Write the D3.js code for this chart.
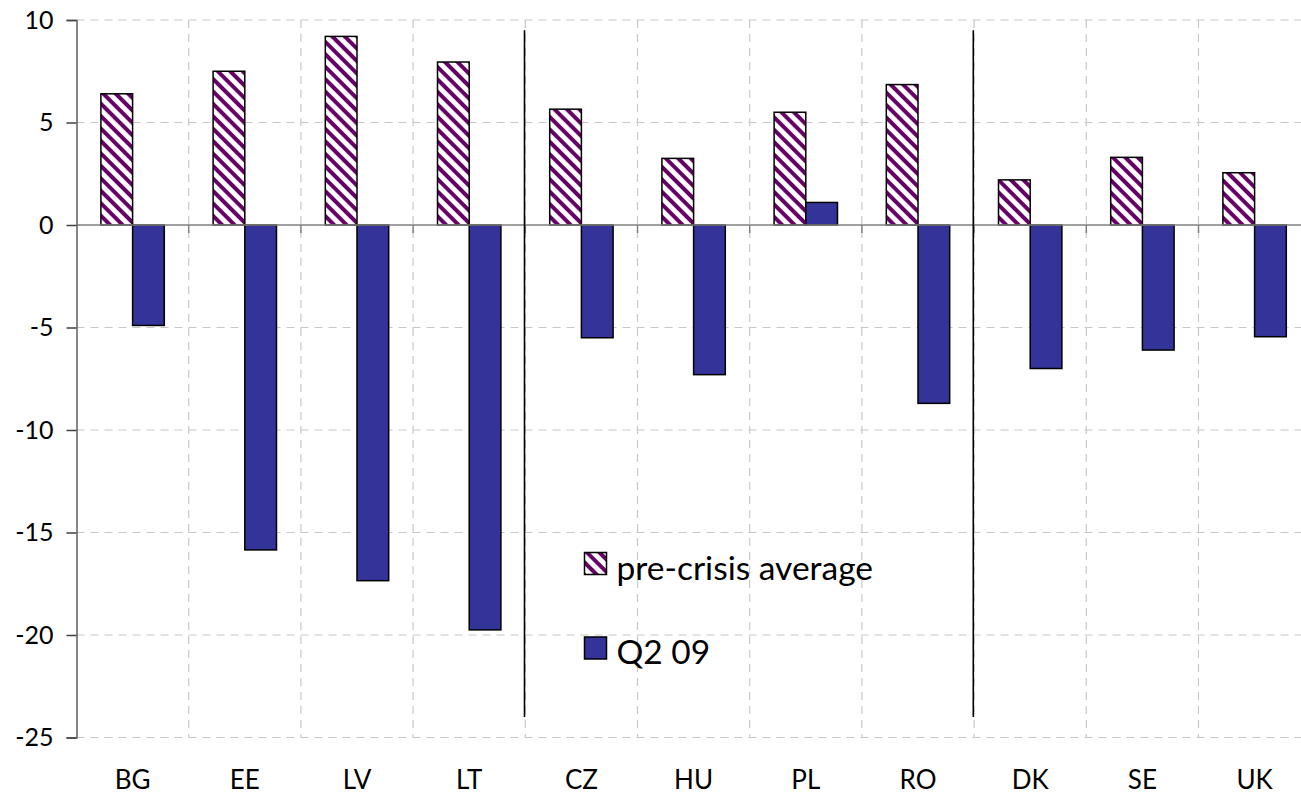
<!DOCTYPE html>
<html>
<head>
<meta charset="utf-8">
<script src="https://cdn.jsdelivr.net/npm/d3@7"></script>
<style>
html,body{margin:0;padding:0;background:#fff;}
svg{display:block;}
text{font-family:"Lato","Open Sans",sans-serif;fill:#000;}
</style>
</head>
<body>
<svg id="chart" width="1301" height="796"></svg>
<script>
const categories = ["BG","EE","LV","LT","CZ","HU","PL","RO","DK","SE","UK"];
const seriesNames = ["pre-crisis average","Q2 09"];
const preCrisis = [6.4, 7.5, 9.2, 7.95, 5.65, 3.25, 5.5, 6.85, 2.2, 3.3, 2.55];
const q2_09 = [-4.9, -15.85, -17.35, -19.75, -5.5, -7.3, 1.1, -8.7, -7.0, -6.1, -5.45];
const yTicks = [10, 5, 0, -5, -10, -15, -20, -25];
const separatorsAfter = ["LT","RO"];
const separatorRange = [9.5, -24];

(function(){
const svg = d3.select("#chart");
const pLeft = 76.5, pRight = 1310.7, pTop = 20, pBottom = 737.5;

const y = d3.scaleLinear().domain([-25, 10]).range([pBottom, pTop]);
const x = d3.scaleBand().domain(categories).range([pLeft, pRight]).padding(0);
const xs = d3.scaleBand().domain(seriesNames).range([0, x.bandwidth()]).paddingInner(0).paddingOuter(0.77);

const defs = svg.append("defs");
const pat = defs.append("pattern")
  .attr("id","hatch").attr("patternUnits","userSpaceOnUse")
  .attr("width",8.8).attr("height",8.8)
  .attr("patternTransform","rotate(45)");
pat.append("rect").attr("width",8.8).attr("height",8.8).attr("fill","#fff");
pat.append("rect").attr("width",8.8).attr("height",4).attr("fill","#660066");

// horizontal gridlines
svg.append("g").selectAll("line").data(yTicks.filter(d => d !== 0)).join("line")
  .attr("x1", pLeft).attr("x2", pRight)
  .attr("y1", d => y(d)).attr("y2", d => y(d))
  .attr("stroke","#c8c8c8").attr("stroke-width",1.2).attr("stroke-dasharray","8,6");

// vertical gridlines at category boundaries
const bounds = categories.slice(1).map(c => x(c));
svg.append("g").selectAll("line").data(bounds).join("line")
  .attr("x1", d => d).attr("x2", d => d)
  .attr("y1", y(10)).attr("y2", y(-25))
  .attr("stroke","#c8c8c8").attr("stroke-width",1.2).attr("stroke-dasharray","8,6");

// bars
const data = categories.map((c,i) => ({c, vals:[preCrisis[i], q2_09[i]]}));
const g = svg.append("g");
data.forEach(d => {
  d.vals.forEach((v, j) => {
    g.append("rect")
      .attr("x", x(d.c) + xs(seriesNames[j]))
      .attr("width", xs.bandwidth())
      .attr("y", y(Math.max(0, v)))
      .attr("height", Math.abs(y(v) - y(0)))
      .attr("fill", j === 0 ? "url(#hatch)" : "#333399")
      .attr("stroke", "#000").attr("stroke-width", 1.5);
  });
});

// zero axis line with ticks
svg.append("line").attr("x1", pLeft).attr("x2", pRight)
  .attr("y1", y(0)).attr("y2", y(0)).attr("stroke","#808080").attr("stroke-width",1.5);
svg.append("g").selectAll("line").data(bounds).join("line")
  .attr("x1", d => d).attr("x2", d => d)
  .attr("y1", y(0)).attr("y2", y(0) + 8)
  .attr("stroke","#808080").attr("stroke-width",1.5);

// y axis
const yAxis = d3.axisLeft(y).tickValues(yTicks).tickSize(10).tickPadding(13).tickFormat(d3.format("d"));
const ya = svg.append("g").attr("transform", `translate(${pLeft},0)`).call(yAxis);
ya.select(".domain").attr("stroke","#606060").attr("stroke-width",1.5);
ya.selectAll(".tick line").attr("stroke","#404040").attr("stroke-width",1.5);
ya.selectAll(".tick text").attr("font-size", 25).attr("font-family","Lato").attr("fill","#000")
  .text(d => d < 0 ? "-" + Math.abs(d) : d);

// x labels
svg.append("g").selectAll("text").data(categories).join("text")
  .attr("x", d => x(d) + x.bandwidth()/2)
  .attr("y", 789)
  .attr("text-anchor","middle").attr("font-size", 26)
  .text(d => d);

// separators
svg.append("g").selectAll("line").data(separatorsAfter).join("line")
  .attr("x1", d => x(d) + x.bandwidth() - 0.8).attr("x2", d => x(d) + x.bandwidth() - 0.8)
  .attr("y1", y(separatorRange[0])).attr("y2", y(separatorRange[1]))
  .attr("stroke","#000").attr("stroke-width",1.6);

// legend
const legend = svg.append("g");
const lx = 584.5, ly = [552.5, 637];
seriesNames.forEach((s, i) => {
  legend.append("rect").attr("x", lx).attr("y", ly[i]).attr("width", 22).attr("height", 22)
    .attr("fill", i === 0 ? "url(#hatch)" : "#333399").attr("stroke","#000").attr("stroke-width",1.5);
  legend.append("text").attr("x", 616.5).attr("y", ly[i] + 27)
    .attr("font-size", 33.5).text(s);
});
})();
</script>
</body>
</html>
